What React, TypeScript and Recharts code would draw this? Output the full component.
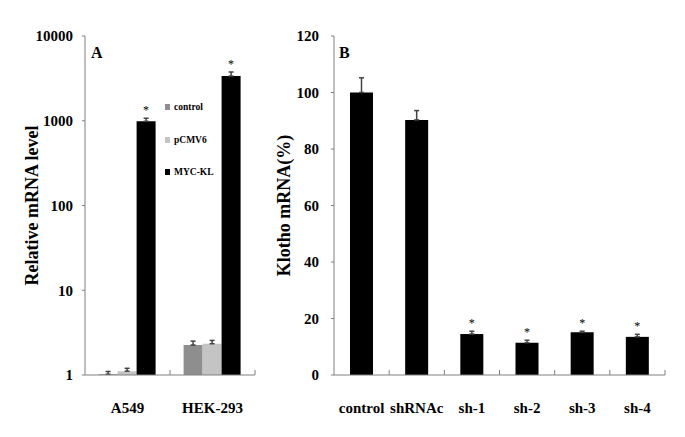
import React from 'react';
import { BarChart, Bar, XAxis, YAxis, ErrorBar, LabelList, Legend } from 'recharts';

// panel A: relative mRNA level (log scale)
const groupsA = ['A549', 'HEK-293'];
const controlA = [1.02, 2.26];
const controlErrA = [0.08, 0.25];
const pcmvA = [1.11, 2.34];
const pcmvErrA = [0.09, 0.22];
const mycA = [985, 3370];
const mycErrA = [85, 390];
const mycSigA = [true, true];
const ticksA = [1, 10, 100, 1000, 10000];
const legendOrder = ['control', 'pCMV6', 'MYC-KL'];

// panel B: Klotho mRNA (%)
const groupsB = ['control', 'shRNAc', 'sh-1', 'sh-2', 'sh-3', 'sh-4'];
const klotho = [100, 90.3, 14.5, 11.4, 15.1, 13.5];
const klothoErr = [5.2, 3.3, 1.0, 0.9, 0.4, 0.9];
const klothoSig = [false, false, true, true, true, true];
const ticksB = [0, 20, 40, 60, 80, 100, 120];

const SERIF = "'Liberation Serif', 'Times New Roman', serif";
const AXIS = '#808080';
const ERR = '#444';

const dataA = groupsA.map((g, i) => ({
  group: g,
  control: controlA[i],
  controlErr: [0, controlErrA[i]],
  pcmv: pcmvA[i],
  pcmvErr: [0, pcmvErrA[i]],
  myc: mycA[i],
  mycErr: [0, mycErrA[i]],
}));

const dataB = groupsB.map((g, i) => ({
  group: g,
  klotho: klotho[i],
  klothoErr: [0, klothoErr[i]],
}));

const tickStyle = { fill: '#000', fontSize: 15, fontWeight: 'bold', fontFamily: SERIF };

function barBox(props: any) {
  const vb = props.viewBox ?? props;
  const top = Math.min(vb.y, vb.y + vb.height);
  return { x: vb.x, w: vb.width, top, h: Math.abs(vb.height) };
}

const star = (x: number, y: number) => (
  <text x={x} y={y} textAnchor="middle" fontSize={12} fontFamily={SERIF} fill="#000" stroke="none">*</text>
);

// asterisk above the error bar, log axis
const logStar = (props: any) => {
  const i = props.index;
  if (!mycSigA[i]) return null;
  const { x, w, top, h } = barBox(props);
  const v = mycA[i];
  const perDecade = h / Math.log10(v);
  const errTop = top - (Math.log10(v + mycErrA[i]) - Math.log10(v)) * perDecade;
  return star(x + w / 2, errTop - 4);
};

const linStar = (props: any) => {
  const i = props.index;
  if (!klothoSig[i]) return null;
  const { x, w, top, h } = barBox(props);
  const errTop = top - klothoErr[i] * (h / klotho[i]);
  return star(x + w / 2, errTop - 4);
};

// category label plus a boundary tick on the axis
const CatTick = (props: any) => {
  const { x, y, payload, width, visibleTicksCount } = props;
  const band = width / visibleTicksCount;
  return (
    <g>
      <line x1={x + band / 2} x2={x + band / 2} y1={y} y2={y - 5} stroke={AXIS} />
      <text x={x} y={y + 38} textAnchor="middle" fontSize={15} fontWeight="bold" fontFamily={SERIF} fill="#000">
        {payload.value}
      </text>
    </g>
  );
};

const renderLegend = (props: any) => {
  const items = [...props.payload].sort(
    (a: any, b: any) => legendOrder.indexOf(a.value) - legendOrder.indexOf(b.value)
  );
  return (
    <div style={{ fontFamily: SERIF, fontWeight: 'bold', fontSize: 9.5 }}>
      {items.map((p: any) => (
        <div key={p.value} style={{ display: 'flex', alignItems: 'center', height: 32.5 }}>
          <span style={{ width: 5, height: 6, background: p.color, marginRight: 4 }} />
          {p.value}
        </div>
      ))}
    </div>
  );
};

export default function App() {
  return (
    <div style={{ position: 'absolute', left: 0, top: 0, width: 685, height: 437, background: '#fff' }}>
      <div style={{ position: 'absolute', left: 0, top: 0 }}>
        <BarChart width={300} height={437} data={dataA} margin={{ top: 36, right: 45, bottom: 0, left: 0 }}
          barCategoryGap="16%" barGap={0}>
          <XAxis dataKey="group" height={62} stroke={AXIS} interval={0} tickLine={false} tickSize={0} tickMargin={0} tick={<CatTick />} />
          <YAxis scale="log" type="number" domain={[1, 10000]} ticks={ticksA} allowDataOverflow width={85}
            stroke={AXIS} tickSize={3} tickMargin={9} tick={tickStyle}
            label={{ value: 'Relative mRNA level', angle: -90, position: 'insideLeft', offset: 32,
              style: { textAnchor: 'middle', fontSize: 18, fontWeight: 'bold', fontFamily: SERIF, fill: '#000' } }} />
          <Legend layout="vertical" align="center" verticalAlign="middle" content={renderLegend}
            wrapperStyle={{ left: 165, top: 91, width: 70 }} />
          <Bar dataKey="control" name="control" fill="#8e8e8e" isAnimationActive={false}>
            <ErrorBar dataKey="controlErr" width={2.5} stroke={ERR} isAnimationActive={false} />
          </Bar>
          <Bar dataKey="pcmv" name="pCMV6" fill="#c4c4c4" isAnimationActive={false}>
            <ErrorBar dataKey="pcmvErr" width={2.5} stroke={ERR} isAnimationActive={false} />
          </Bar>
          <Bar dataKey="myc" name="MYC-KL" fill="#000" isAnimationActive={false}>
            <ErrorBar dataKey="mycErr" width={2.5} stroke={ERR} isAnimationActive={false} />
            <LabelList dataKey="myc" content={logStar} />
          </Bar>
        </BarChart>
      </div>
      <div style={{ position: 'absolute', left: 260, top: 0 }}>
        <BarChart width={425} height={437} data={dataB} margin={{ top: 36, right: 20, bottom: 0, left: 0 }}
          barCategoryGap="29%">
          <XAxis dataKey="group" height={62} stroke={AXIS} interval={0} tickLine={false} tickSize={0} tickMargin={0} tick={<CatTick />} />
          <YAxis type="number" domain={[0, 120]} ticks={ticksB} width={74}
            stroke={AXIS} tickSize={3} tickMargin={12} tick={tickStyle}
            label={{ value: 'Klotho mRNA(%)', angle: -90, position: 'insideLeft', offset: 24,
              style: { textAnchor: 'middle', fontSize: 18, fontWeight: 'bold', fontFamily: SERIF, fill: '#000' } }} />
          <Bar dataKey="klotho" fill="#000" isAnimationActive={false}>
            <ErrorBar dataKey="klothoErr" width={2.5} stroke={ERR} isAnimationActive={false} />
            <LabelList dataKey="klotho" content={linStar} />
          </Bar>
        </BarChart>
      </div>
      <div style={{ position: 'absolute', left: 91, top: 44, fontFamily: SERIF, fontWeight: 'bold', fontSize: 16 }}>A</div>
      <div style={{ position: 'absolute', left: 339, top: 44, fontFamily: SERIF, fontWeight: 'bold', fontSize: 16 }}>B</div>
    </div>
  );
}
